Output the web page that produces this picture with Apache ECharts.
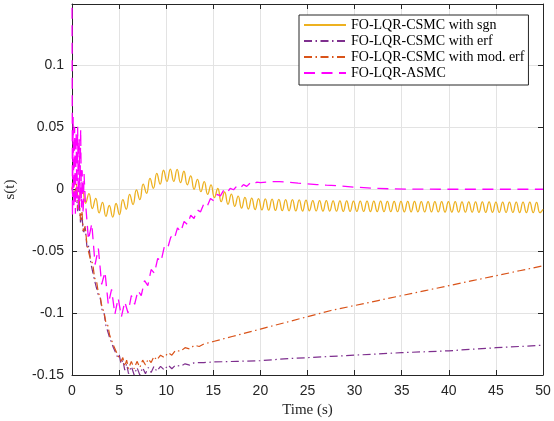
<!DOCTYPE html>
<html><head><meta charset="utf-8">
<script src="https://cdn.jsdelivr.net/npm/echarts@6/dist/echarts.min.js"></script>
<style>html,body{margin:0;padding:0;background:#fff}#c{width:554px;height:421px}</style>
</head><body><div id="c"></div>
<script>
const seriesNames = ['FO-LQR-CSMC with sgn','FO-LQR-CSMC with erf','FO-LQR-CSMC with mod. erf','FO-LQR-ASMC'];
const xTicks = [0,5,10,15,20,25,30,35,40,45,50];
const yTicks = [-0.15,-0.1,-0.05,0,0.05,0.1];

const sgnData = [[0,0],[0.36,0.0043],[0.72,-0.0073],[1.08,0.0005],[1.44,-0.0116],[1.8,-0.0038],[2.16,-0.0158],[2.52,-0.0076],[2.88,-0.0194],[3.24,-0.0108],[3.6,-0.0221],[3.96,-0.0134],[4.32,-0.0227],[4.68,-0.0118],[5.04,-0.0208],[5.4,-0.0086],[5.76,-0.0164],[6.12,-0.0044],[6.48,-0.0126],[6.84,-0.0008],[7.2,-0.0086],[7.56,0.0039],[7.92,-0.0036],[8.28,0.0085],[8.64,0.0005],[9,0.0125],[9.36,0.0038],[9.72,0.015],[10.08,0.006],[10.44,0.016],[10.8,0.006],[11.16,0.0157],[11.52,0.005],[11.88,0.0142],[12.24,0.0033],[12.6,0.0105],[12.96,-0.0003],[13.32,0.0077],[13.68,-0.0022],[14.04,0.0059],[14.4,-0.0044],[14.76,0.0033],[15.12,-0.007],[15.48,0.0003],[15.84,-0.0103],[16.2,-0.0025],[16.56,-0.0124],[16.92,-0.0043],[17.28,-0.0141],[17.64,-0.0058],[18,-0.0155],[18.36,-0.0069],[18.72,-0.0162],[19.08,-0.0075],[19.44,-0.0167],[19.8,-0.0079],[20.16,-0.017],[20.52,-0.0081],[20.88,-0.0172],[21.24,-0.0083],[21.6,-0.0174],[21.96,-0.0085],[22.32,-0.0176],[22.68,-0.0086],[23.04,-0.0177],[23.4,-0.0087],[23.76,-0.0178],[24.12,-0.0088],[24.48,-0.0179],[24.84,-0.009],[25.2,-0.0177],[25.56,-0.0094],[25.92,-0.0178],[26.28,-0.0094],[26.64,-0.0179],[27,-0.0095],[27.36,-0.0179],[27.72,-0.0096],[28.08,-0.018],[28.44,-0.0096],[28.8,-0.0181],[29.16,-0.0097],[29.52,-0.0182],[29.88,-0.0098],[30.24,-0.0182],[30.6,-0.0098],[30.96,-0.0182],[31.32,-0.0099],[31.68,-0.0183],[32.04,-0.0099],[32.4,-0.0183],[32.76,-0.0099],[33.12,-0.0184],[33.48,-0.01],[33.84,-0.0184],[34.2,-0.01],[34.56,-0.0184],[34.92,-0.01],[35.28,-0.0185],[35.64,-0.0101],[36,-0.0185],[36.36,-0.0101],[36.72,-0.0185],[37.08,-0.0102],[37.44,-0.0186],[37.8,-0.0102],[38.16,-0.0186],[38.52,-0.0102],[38.88,-0.0186],[39.24,-0.0103],[39.6,-0.0187],[39.96,-0.0103],[40.32,-0.0187],[40.68,-0.0103],[41.04,-0.0188],[41.4,-0.0104],[41.76,-0.0188],[42.12,-0.0104],[42.48,-0.0188],[42.84,-0.0104],[43.2,-0.0189],[43.56,-0.0105],[43.92,-0.0189],[44.28,-0.0105],[44.64,-0.0189],[45,-0.0106],[45.36,-0.019],[45.72,-0.0106],[46.08,-0.019],[46.44,-0.0106],[46.8,-0.019],[47.16,-0.0107],[47.52,-0.0191],[47.88,-0.0107],[48.24,-0.0191],[48.6,-0.0107],[48.96,-0.0192],[49.32,-0.0108],[49.68,-0.0192],[50,-0.0165]];

const erfData = [[0,0],[0.15,-0.004],[0.3,-0.008],[0.45,-0.002],[0.6,-0.018],[0.75,-0.01],[0.9,-0.027],[1.05,-0.02],[1.2,-0.036],[1.4,-0.031],[1.6,-0.048],[1.8,-0.046],[2,-0.06],[2.2,-0.061],[2.4,-0.074],[2.6,-0.075],[2.8,-0.086],[3,-0.088],[3.2,-0.098],[3.4,-0.1],[3.6,-0.11],[3.8,-0.111],[4,-0.12],[4.2,-0.12],[4.4,-0.128],[4.6,-0.127],[4.8,-0.135],[5,-0.133],[5.2,-0.141],[5.4,-0.138],[5.6,-0.146],[5.8,-0.141],[6,-0.149],[6.3,-0.143],[6.6,-0.15],[6.9,-0.144],[7.2,-0.15],[7.5,-0.144],[7.8,-0.149],[8.1,-0.144],[8.4,-0.148],[8.7,-0.143],[9,-0.147],[9.4,-0.143],[9.8,-0.146],[10.2,-0.142],[10.6,-0.145],[11,-0.142],[11.5,-0.143],[12,-0.141],[12.5,-0.142],[13,-0.14],[14,-0.14],[15,-0.1395],[17.5,-0.139],[20,-0.1385],[22.5,-0.137],[25,-0.136],[27.5,-0.135],[30,-0.134],[35,-0.132],[40,-0.1305],[45,-0.128],[50,-0.126]];

const modErfData = [[0,0],[0.15,0.006],[0.3,-0.01],[0.45,0.004],[0.6,-0.016],[0.75,-0.006],[0.9,-0.025],[1.05,-0.018],[1.2,-0.034],[1.4,-0.03],[1.6,-0.046],[1.8,-0.045],[2,-0.058],[2.2,-0.06],[2.4,-0.072],[2.6,-0.074],[2.8,-0.084],[3,-0.087],[3.2,-0.096],[3.4,-0.099],[3.6,-0.108],[3.8,-0.11],[4,-0.118],[4.2,-0.119],[4.4,-0.126],[4.6,-0.126],[4.8,-0.133],[5,-0.132],[5.2,-0.139],[5.4,-0.136],[5.6,-0.143],[5.8,-0.138],[6,-0.145],[6.3,-0.139],[6.6,-0.145],[6.9,-0.139],[7.2,-0.144],[7.5,-0.138],[7.8,-0.142],[8.1,-0.137],[8.4,-0.14],[8.7,-0.135],[9,-0.138],[9.4,-0.134],[9.8,-0.136],[10.2,-0.132],[10.6,-0.134],[11,-0.13],[11.5,-0.131],[12,-0.128],[12.5,-0.129],[13,-0.126],[13.5,-0.127],[14,-0.125],[15,-0.123],[16,-0.121],[17,-0.119],[18,-0.117],[20,-0.113],[22.5,-0.108],[25,-0.103],[27.5,-0.098],[30,-0.094],[32.5,-0.09],[35,-0.086],[37.5,-0.082],[40,-0.078],[42.5,-0.074],[45,-0.07],[47.5,-0.066],[50,-0.062]];

const asmcData = [[0,0.16],[0.05,-0.022],[0.12,0.058],[0.2,-0.015],[0.28,0.05],[0.36,-0.02],[0.44,0.045],[0.52,-0.01],[0.6,0.05],[0.68,-0.018],[0.76,0.04],[0.84,-0.01],[0.92,0.048],[1,-0.015],[1.08,0.015],[1.18,-0.02],[1.28,0.012],[1.4,-0.008],[1.75,-0.041],[2.1,-0.028],[2.45,-0.061],[2.8,-0.048],[3.15,-0.077],[3.5,-0.067],[3.85,-0.093],[4.2,-0.081],[4.55,-0.101],[4.9,-0.088],[5.25,-0.103],[5.6,-0.091],[5.95,-0.1],[6.3,-0.086],[6.65,-0.093],[7,-0.082],[7.35,-0.086],[7.7,-0.074],[8.05,-0.078],[8.4,-0.065],[8.75,-0.068],[9.1,-0.056],[9.45,-0.0585],[9.8,-0.0465],[10.15,-0.048],[10.5,-0.0385],[10.85,-0.0405],[11.2,-0.0314],[11.55,-0.0346],[11.9,-0.0263],[12.25,-0.0287],[12.6,-0.0213],[12.95,-0.0238],[13.3,-0.017],[13.65,-0.0185],[14,-0.012],[14.35,-0.014],[14.7,-0.0078],[15.05,-0.0097],[15.4,-0.0045],[15.75,-0.0057],[16.1,-0.0012],[16.45,-0.0032],[16.8,0.0004],[17.15,-0.0007],[17.5,0.0023],[17.85,0.0007],[18.2,0.0034],[18.55,0.002],[18.9,0.0046],[19.25,0.0034],[19.6,0.0054],[20,0.005],[21,0.0058],[22,0.0058],[23,0.0054],[24,0.0047],[25,0.0041],[26,0.0035],[27,0.003],[28.5,0.0024],[30,0.0014],[32,0.0005],[34,0],[36,-0.0002],[40,-0.0003],[45,-0.0003],[50,-0.0003]];

const axisColor = '#262626';
const gridColor = '#e3e3e3';
const chart = echarts.init(document.getElementById('c'), null, {renderer: 'canvas'});
const tickFont = {fontFamily: 'Liberation Sans, Arial, sans-serif', fontSize: 14, color: axisColor};

chart.setOption({
  animation: false,
  backgroundColor: '#fff',
  grid: {left: 72, right: 11, top: 4, bottom: 46, containLabel: false, outerBoundsMode: 'none'},
  legend: {
    orient: 'vertical', left: 299, top: 15,
    padding: [3, 4, 5, 4], itemGap: 2, itemWidth: 42, itemHeight: 10,
    backgroundColor: '#fff', borderColor: axisColor, borderWidth: 1,
    itemStyle: {opacity: 0},
    textStyle: {fontFamily: 'Liberation Serif, Times New Roman, serif', fontSize: 14, color: '#000'},
    data: seriesNames
  },
  xAxis: [{
    type: 'value', min: xTicks[0], max: xTicks[xTicks.length - 1], interval: 5,
    name: 'Time (s)', nameLocation: 'middle', nameGap: 25,
    nameTextStyle: {fontFamily: 'Liberation Serif, Times New Roman, serif', fontSize: 15, color: axisColor},
    axisLine: {onZero: false, lineStyle: {color: axisColor, width: 1}},
    axisTick: {inside: true, length: 5, lineStyle: {color: axisColor}},
    axisLabel: Object.assign({margin: 9}, tickFont),
    splitLine: {show: true, lineStyle: {color: gridColor, width: 1}}
  }, {
    type: 'value', position: 'top', min: 0, max: 50, interval: 5,
    axisLine: {show: true, onZero: false, lineStyle: {color: axisColor, width: 1}},
    axisTick: {show: true, inside: true, length: 5, lineStyle: {color: axisColor}},
    axisLabel: {show: false}, splitLine: {show: false}
  }],
  yAxis: [{
    type: 'value', min: yTicks[0], max: 0.149, interval: 0.05,
    name: 's(t)', nameLocation: 'middle', nameGap: 54, nameRotate: 90,
    nameTextStyle: {fontFamily: 'Liberation Serif, Times New Roman, serif', fontSize: 15, color: axisColor},
    axisLine: {show: true, onZero: false, lineStyle: {color: axisColor, width: 1}},
    axisTick: {show: true, inside: true, length: 5, lineStyle: {color: axisColor}},
    axisLabel: Object.assign({margin: 8, showMaxLabel: false,
      formatter: v => String(Math.round(v * 100) / 100)}, tickFont),
    splitLine: {show: true, lineStyle: {color: gridColor, width: 1}}
  }, {
    type: 'value', position: 'right', min: -0.15, max: 0.149, interval: 0.05,
    axisLine: {show: true, onZero: false, lineStyle: {color: axisColor, width: 1}},
    axisTick: {show: true, inside: true, length: 5, lineStyle: {color: axisColor}},
    axisLabel: {show: false}, splitLine: {show: false}
  }],
  series: [
    {name: seriesNames[0], type: 'line', data: sgnData, showSymbol: false, symbol: 'none', smooth: 0.5,
     lineStyle: {color: '#EDB120', width: 1.3}, itemStyle: {color: '#EDB120'}},
    {name: seriesNames[1], type: 'line', data: erfData, showSymbol: false, symbol: 'none',
     lineStyle: {color: '#7E2F8E', width: 1.2, type: [8, 3.5, 1.5, 3.5]}, itemStyle: {color: '#7E2F8E'}},
    {name: seriesNames[2], type: 'line', data: modErfData, showSymbol: false, symbol: 'none',
     lineStyle: {color: '#D95319', width: 1.2, type: [8, 3.5, 1.5, 3.5]}, itemStyle: {color: '#D95319'}},
    {name: seriesNames[3], type: 'line', data: asmcData, showSymbol: false, symbol: 'none',
     lineStyle: {color: '#FF00FF', width: 1.3, type: [11, 6.5]}, itemStyle: {color: '#FF00FF'}}
  ]
});
</script></body></html>
